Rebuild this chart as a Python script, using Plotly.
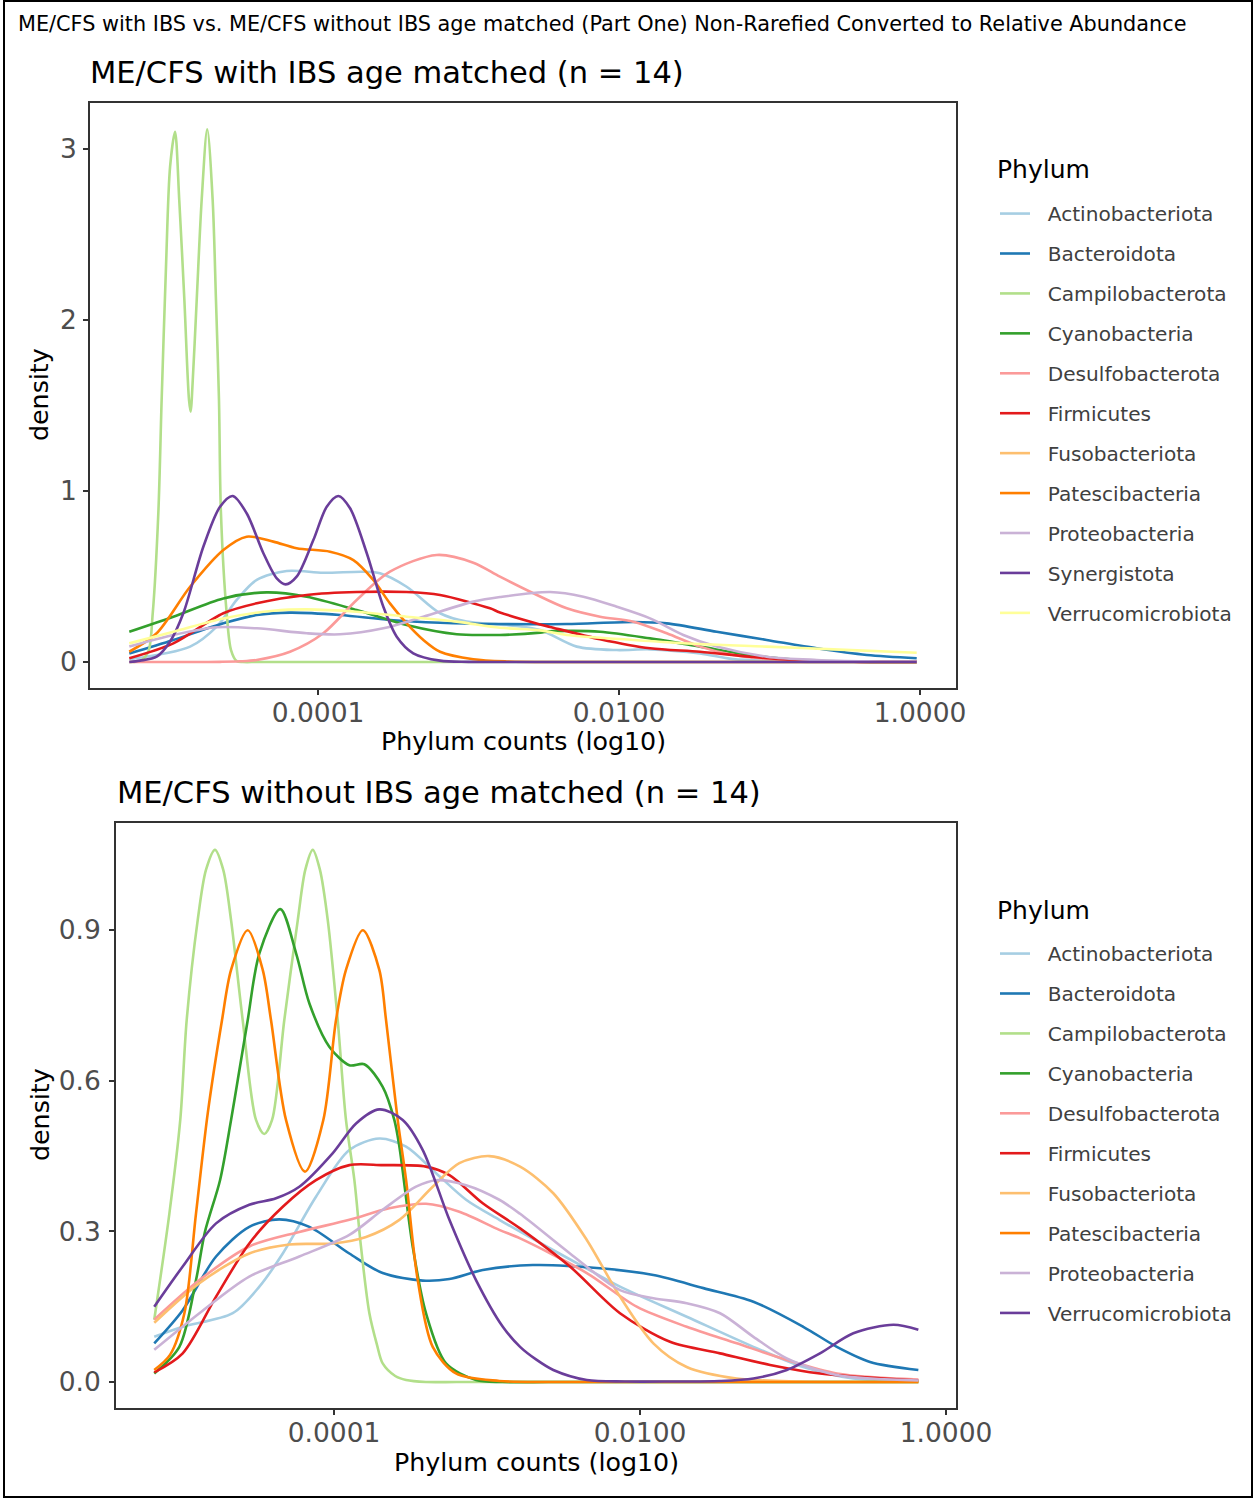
import plotly.graph_objects as go

# ---------------------------------------------------------------------------
# Phyla and colours (ColorBrewer "Paired")
# ---------------------------------------------------------------------------
phyla_ibs = ["Actinobacteriota", "Bacteroidota", "Campilobacterota", "Cyanobacteria",
             "Desulfobacterota", "Firmicutes", "Fusobacteriota", "Patescibacteria",
             "Proteobacteria", "Synergistota", "Verrucomicrobiota"]
colors_ibs = ["#A6CEE3", "#1F78B4", "#B2DF8A", "#33A02C", "#FB9A99", "#E31A1C",
              "#FDBF6F", "#FF7F00", "#CAB2D6", "#6A3D9A", "#FFFF99"]

phyla_no_ibs = ["Actinobacteriota", "Bacteroidota", "Campilobacterota", "Cyanobacteria",
                "Desulfobacterota", "Firmicutes", "Fusobacteriota", "Patescibacteria",
                "Proteobacteria", "Verrucomicrobiota"]
colors_no_ibs = ["#A6CEE3", "#1F78B4", "#B2DF8A", "#33A02C", "#FB9A99", "#E31A1C",
                 "#FDBF6F", "#FF7F00", "#CAB2D6", "#6A3D9A"]

# ---------------------------------------------------------------------------
# Density curves, ME/CFS with IBS: x = log10(relative abundance), y = density
# ---------------------------------------------------------------------------
ibs_actinobacteriota_x = [-5.254, -4.850, -4.673, -4.540, -4.407, -4.208, -3.965, -3.699, -3.588,
                          -3.411, -3.189, -3.012, -2.746, -2.525, -2.281, -2.015, -1.794, -1.462,
                          -1.243, -0.797, -0.400, -0.022]
ibs_actinobacteriota_y = [0.016, 0.090, 0.207, 0.363, 0.480, 0.532, 0.522, 0.528, 0.519,
                          0.440, 0.285, 0.236, 0.216, 0.187, 0.090, 0.070, 0.074, 0.050,
                          0.017, 0.002, 0.000, 0.000]

ibs_bacteroidota_x = [-5.254, -4.961, -4.629, -4.407, -4.186, -3.854, -3.522, -3.189, -2.791,
                      -2.347, -1.905, -1.683, -1.351, -1.019, -0.686, -0.354, -0.022]
ibs_bacteroidota_y = [0.050, 0.129, 0.226, 0.275, 0.289, 0.275, 0.246, 0.230, 0.222,
                      0.222, 0.234, 0.226, 0.177, 0.129, 0.080, 0.041, 0.022]

ibs_campilobacterota_x = [-5.254, -5.220, -5.183, -5.128, -5.098, -5.061, -5.039, -5.010, -4.983,
                          -4.950, -4.922, -4.888, -4.857, -4.846, -4.839, -4.806, -4.773, -4.736,
                          -4.700, -4.678, -4.658, -4.645, -4.607, -4.578, -4.540, -4.500, -4.400,
                          -4.000, -3.500, -3.000, -2.500, -2.000, -1.500, -1.000, -0.500, -0.022]
ibs_campilobacterota_y = [0.000, 0.001, 0.005, 0.060, 0.287, 0.871, 1.532, 2.312, 2.896,
                          3.101, 2.702, 2.117, 1.532, 1.464, 1.532, 2.117, 2.702, 3.115,
                          2.702, 2.117, 1.532, 0.871, 0.287, 0.070, 0.005, 0.000, 0.000,
                          0.000, 0.000, 0.000, 0.000, 0.000, 0.000, 0.000, 0.000, 0.000]

ibs_cyanobacteria_x = [-5.254, -4.961, -4.629, -4.341, -4.075, -3.743, -3.411, -3.078, -2.857,
                       -2.791, -2.525, -2.458, -2.126, -1.794, -1.462, -1.130, -0.797, -0.400,
                       -0.022]
ibs_cyanobacteria_y = [0.177, 0.265, 0.372, 0.407, 0.382, 0.304, 0.216, 0.162, 0.158,
                       0.158, 0.172, 0.180, 0.177, 0.138, 0.090, 0.041, 0.012, 0.002,
                       0.000]

ibs_desulfobacterota_x = [-5.254, -5.000, -4.784, -4.650, -4.518, -4.407, -4.186, -3.965, -3.743,
                          -3.522, -3.211, -2.968, -2.791, -2.569, -2.347, -2.126, -1.905, -1.683,
                          -1.462, -1.240, -0.908, -0.450, -0.022]
ibs_desulfobacterota_y = [0.000, 0.000, 0.000, 0.001, 0.004, 0.012, 0.060, 0.168, 0.363,
                          0.528, 0.626, 0.581, 0.499, 0.402, 0.314, 0.265, 0.236, 0.168,
                          0.090, 0.041, 0.012, 0.003, 0.002]

ibs_firmicutes_x = [-5.254, -4.961, -4.629, -4.407, -4.075, -3.743, -3.411, -3.189, -2.857,
                    -2.791, -2.525, -2.458, -2.126, -1.794, -1.462, -1.130, -0.797, -0.400,
                    -0.022]
ibs_firmicutes_y = [0.022, 0.109, 0.285, 0.343, 0.392, 0.409, 0.409, 0.392, 0.314,
                    0.290, 0.220, 0.205, 0.133, 0.080, 0.060, 0.031, 0.008, 0.001,
                    0.000]

ibs_fusobacteriota_x = []
ibs_fusobacteriota_y = []

ibs_patescibacteria_x = [-5.254, -5.072, -4.850, -4.629, -4.474, -4.297, -4.142, -3.920, -3.765,
                         -3.633, -3.522, -3.411, -3.300, -3.189, -2.968, -2.746, -2.400, -2.000,
                         -1.500, -1.000, -0.500, -0.022]
ibs_patescibacteria_y = [0.060, 0.168, 0.440, 0.655, 0.733, 0.704, 0.665, 0.645, 0.596,
                         0.480, 0.343, 0.226, 0.129, 0.060, 0.016, 0.003, 0.000, 0.000,
                         0.000, 0.000, 0.000, 0.000]

ibs_proteobacteria_x = [-5.254, -4.961, -4.673, -4.407, -4.075, -3.854, -3.566, -3.300, -2.968,
                        -2.791, -2.458, -2.237, -2.015, -1.794, -1.573, -1.351, -1.019, -0.686,
                        -0.350, -0.022]
ibs_proteobacteria_y = [0.090, 0.158, 0.203, 0.197, 0.168, 0.162, 0.197, 0.265, 0.353,
                        0.380, 0.409, 0.382, 0.323, 0.255, 0.158, 0.090, 0.031, 0.012,
                        0.004, 0.002]

ibs_synergistota_x = [-5.254, -5.183, -5.072, -4.983, -4.895, -4.762, -4.651, -4.567, -4.474,
                      -4.363, -4.274, -4.215, -4.142, -4.031, -3.942, -3.865, -3.787, -3.676,
                      -3.566, -3.477, -3.367, -3.189, -3.000, -2.600, -2.000, -1.500, -1.000,
                      -0.500, -0.022]
ibs_synergistota_y = [0.000, 0.008, 0.031, 0.120, 0.285, 0.674, 0.908, 0.971, 0.870,
                      0.636, 0.489, 0.454, 0.499, 0.713, 0.908, 0.971, 0.899, 0.636,
                      0.323, 0.148, 0.051, 0.008, 0.001, 0.000, 0.000, 0.000, 0.000,
                      0.000, 0.000]

ibs_verrucomicrobiota_x = [-5.254, -4.961, -4.629, -4.297, -4.075, -3.743, -3.411, -3.078, -2.791,
                           -2.525, -2.347, -1.905, -1.462, -1.019, -0.576, -0.022]
ibs_verrucomicrobiota_y = [0.109, 0.177, 0.255, 0.300, 0.308, 0.294, 0.265, 0.236, 0.200,
                           0.185, 0.158, 0.129, 0.105, 0.090, 0.074, 0.054]

# ---------------------------------------------------------------------------
# Density curves, ME/CFS without IBS
# ---------------------------------------------------------------------------
noibs_actinobacteriota_x = [-5.175, -4.989, -4.662, -4.488, -4.335, -4.118, -3.900, -3.704, -3.529,
                            -3.333, -3.137, -2.920, -2.700, -2.348, -2.131, -1.695, -1.259, -0.933,
                            -0.606, -0.181]
noibs_actinobacteriota_y = [0.090, 0.110, 0.137, 0.190, 0.256, 0.369, 0.462, 0.485, 0.469,
                            0.416, 0.363, 0.323, 0.285, 0.226, 0.190, 0.130, 0.070, 0.030,
                            0.007, 0.002]

noibs_bacteroidota_x = [-5.175, -4.989, -4.771, -4.554, -4.358, -4.161, -3.900, -3.682, -3.420,
                        -3.246, -3.028, -2.701, -2.240, -1.913, -1.586, -1.259, -0.933, -0.714,
                        -0.497, -0.181]
noibs_bacteroidota_y = [0.077, 0.143, 0.250, 0.309, 0.324, 0.309, 0.256, 0.217, 0.202,
                        0.205, 0.223, 0.233, 0.226, 0.213, 0.187, 0.160, 0.110, 0.070,
                        0.040, 0.024]

noibs_campilobacterota_x = [-5.175, -5.076, -5.005, -4.963, -4.891, -4.837, -4.778, -4.724, -4.673,
                            -4.597, -4.510, -4.456, -4.405, -4.325, -4.237, -4.188, -4.139, -4.092,
                            -4.041, -3.976, -3.922, -3.867, -3.824, -3.769, -3.720, -3.682, -3.600,
                            -3.529, -3.400, -3.200, -2.800, -2.400, -2.000, -1.500, -1.000, -0.500,
                            -0.181]
noibs_campilobacterota_y = [0.124, 0.336, 0.522, 0.721, 0.920, 1.020, 1.060, 1.020, 0.920,
                            0.721, 0.522, 0.494, 0.522, 0.721, 0.920, 1.020, 1.060, 1.020,
                            0.920, 0.721, 0.522, 0.402, 0.270, 0.137, 0.075, 0.037, 0.012,
                            0.004, 0.000, 0.000, 0.000, 0.000, 0.000, 0.000, 0.000, 0.000,
                            0.000]

noibs_cyanobacteria_x = [-5.175, -5.011, -4.902, -4.843, -4.745, -4.673, -4.629, -4.564, -4.488,
                         -4.351, -4.248, -4.161, -4.031, -3.900, -3.802, -3.682, -3.606, -3.573,
                         -3.486, -3.399, -3.268, -3.072, -2.900, -2.600, -2.200, -1.800, -1.400,
                         -1.000, -0.600, -0.181]
noibs_cyanobacteria_y = [0.017, 0.070, 0.203, 0.300, 0.402, 0.522, 0.602, 0.721, 0.854,
                         0.942, 0.854, 0.754, 0.668, 0.631, 0.633, 0.588, 0.522, 0.469,
                         0.270, 0.137, 0.037, 0.004, 0.000, 0.000, 0.000, 0.000, 0.000,
                         0.000, 0.000, 0.000]

noibs_desulfobacterota_x = [-5.175, -4.880, -4.554, -4.227, -3.900, -3.639, -3.399, -3.181, -2.920,
                            -2.784, -2.348, -2.022, -1.695, -1.368, -1.041, -0.714, -0.181]
noibs_desulfobacterota_y = [0.124, 0.203, 0.270, 0.299, 0.323, 0.346, 0.355, 0.339, 0.303,
                            0.286, 0.217, 0.150, 0.110, 0.077, 0.044, 0.017, 0.005]

noibs_firmicutes_x = [-5.175, -4.989, -4.771, -4.554, -4.335, -4.118, -3.900, -3.682, -3.399,
                      -3.246, -3.028, -2.784, -2.458, -2.131, -1.804, -1.477, -1.150, -0.824,
                      -0.181]
noibs_firmicutes_y = [0.019, 0.057, 0.170, 0.276, 0.349, 0.402, 0.432, 0.432, 0.429,
                      0.412, 0.356, 0.306, 0.230, 0.137, 0.080, 0.057, 0.034, 0.017,
                      0.003]

noibs_fusobacteriota_x = [-5.175, -4.880, -4.554, -4.292, -4.008, -3.791, -3.573, -3.355, -3.181,
                          -2.985, -2.784, -2.567, -2.348, -2.131, -1.913, -1.695, -1.368, -0.954,
                          -0.600, -0.181]
noibs_fusobacteriota_y = [0.118, 0.197, 0.256, 0.274, 0.276, 0.289, 0.323, 0.389, 0.436,
                          0.450, 0.429, 0.376, 0.283, 0.170, 0.077, 0.030, 0.007, 0.001,
                          0.000, 0.000]

noibs_patescibacteria_x = [-5.175, -5.072, -4.978, -4.902, -4.825, -4.732, -4.673, -4.564, -4.466,
                           -4.412, -4.314, -4.190, -4.070, -3.987, -3.922, -3.812, -3.704, -3.660,
                           -3.584, -3.529, -3.453, -3.355, -3.203, -2.920, -2.600, -2.200, -1.800,
                           -1.400, -1.000, -0.600, -0.181]
noibs_patescibacteria_y = [0.024, 0.054, 0.137, 0.336, 0.536, 0.721, 0.821, 0.900, 0.821,
                           0.721, 0.522, 0.419, 0.522, 0.721, 0.821, 0.900, 0.821, 0.721,
                           0.522, 0.402, 0.203, 0.070, 0.017, 0.002, 0.000, 0.000, 0.000,
                           0.000, 0.000, 0.000, 0.000]

noibs_proteobacteria_x = [-5.175, -4.880, -4.554, -4.227, -3.900, -3.682, -3.464, -3.333, -3.137,
                          -2.920, -2.784, -2.458, -2.131, -1.913, -1.695, -1.477, -1.259, -1.041,
                          -0.714, -0.181]
noibs_proteobacteria_y = [0.064, 0.137, 0.210, 0.250, 0.293, 0.343, 0.389, 0.402, 0.392,
                          0.363, 0.335, 0.256, 0.183, 0.167, 0.157, 0.137, 0.090, 0.047,
                          0.014, 0.003]

noibs_verrucomicrobiota_x = [-5.175, -4.989, -4.771, -4.554, -4.379, -4.227, -4.008, -3.856, -3.704,
                             -3.551, -3.420, -3.246, -3.072, -2.897, -2.784, -2.680, -2.567, -2.348,
                             -2.100, -1.800, -1.477, -1.259, -1.041, -0.824, -0.606, -0.344, -0.181]
noibs_verrucomicrobiota_y = [0.150, 0.230, 0.316, 0.353, 0.366, 0.389, 0.456, 0.515, 0.543,
                             0.522, 0.462, 0.323, 0.203, 0.110, 0.070, 0.045, 0.024, 0.004,
                             0.001, 0.001, 0.002, 0.007, 0.024, 0.057, 0.097, 0.114, 0.104]

# Curves in drawing order for each panel
curves_ibs = [
    (ibs_actinobacteriota_x, ibs_actinobacteriota_y),
    (ibs_bacteroidota_x, ibs_bacteroidota_y),
    (ibs_campilobacterota_x, ibs_campilobacterota_y),
    (ibs_cyanobacteria_x, ibs_cyanobacteria_y),
    (ibs_desulfobacterota_x, ibs_desulfobacterota_y),
    (ibs_firmicutes_x, ibs_firmicutes_y),
    (ibs_fusobacteriota_x, ibs_fusobacteriota_y),
    (ibs_patescibacteria_x, ibs_patescibacteria_y),
    (ibs_proteobacteria_x, ibs_proteobacteria_y),
    (ibs_synergistota_x, ibs_synergistota_y),
    (ibs_verrucomicrobiota_x, ibs_verrucomicrobiota_y),
]
curves_no_ibs = [
    (noibs_actinobacteriota_x, noibs_actinobacteriota_y),
    (noibs_bacteroidota_x, noibs_bacteroidota_y),
    (noibs_campilobacterota_x, noibs_campilobacterota_y),
    (noibs_cyanobacteria_x, noibs_cyanobacteria_y),
    (noibs_desulfobacterota_x, noibs_desulfobacterota_y),
    (noibs_firmicutes_x, noibs_firmicutes_y),
    (noibs_fusobacteriota_x, noibs_fusobacteriota_y),
    (noibs_patescibacteria_x, noibs_patescibacteria_y),
    (noibs_proteobacteria_x, noibs_proteobacteria_y),
    (noibs_verrucomicrobiota_x, noibs_verrucomicrobiota_y),
]

x_tick_values = [1e-4, 1e-2, 1.0]
x_tick_labels = ["0.0001", "0.0100", "1.0000"]
y_ticks_ibs = [0, 1, 2, 3]
y_ticks_no_ibs = [0.0, 0.3, 0.6, 0.9]

# ---------------------------------------------------------------------------
# Figure
# ---------------------------------------------------------------------------
W, H = 1254, 1500
FONT = "DejaVu Sans"
NBSP = "\u00a0"


def fx(px):
    return px / W


def fy(py):
    return 1 - py / H


fig = go.Figure()


def add_panel(phyla, colors, curves, xref, yref, legend):
    for i, (name, color, (lx, dens)) in enumerate(zip(phyla, colors, curves)):
        xs = [10 ** v for v in lx] if lx else [None]
        ys = list(dens) if dens else [None]
        fig.add_trace(go.Scatter(
            x=xs, y=ys, mode="lines",
            # two non-breaking spaces widen the gap between key and label
            name=NBSP * 2 + name,
            line=dict(color=color, width=2.6, shape="spline", smoothing=0.85),
            xaxis=xref, yaxis=yref, legend=legend,
            legendgroup=f"{legend}-{i}", showlegend=True,
            hoverinfo="skip",
        ))


add_panel(phyla_ibs, colors_ibs, curves_ibs, "x", "y", "legend")
add_panel(phyla_no_ibs, colors_no_ibs, curves_no_ibs, "x2", "y2", "legend2")

axis_style = dict(
    showline=True, linecolor="#333333", linewidth=1.6, mirror=True,
    ticks="outside", ticklen=5, tickwidth=1.6, tickcolor="#333333",
    showgrid=False, zeroline=False, automargin=False,
    tickfont=dict(family=FONT, size=26.5, color="#4D4D4D"),
)

legend_style = dict(
    xanchor="left", yanchor="top",
    bgcolor="rgba(0,0,0,0)",
    font=dict(family=FONT, size=20.1, color="#404040"),
    tracegroupgap=10.8, itemwidth=30,
)

fig.update_layout(
    template="none",
    width=W, height=H, autosize=False,
    margin=dict(l=0, r=0, t=0, b=0, pad=0, autoexpand=False),
    paper_bgcolor="white", plot_bgcolor="white",
    font=dict(family=FONT, color="#000000"),
    showlegend=True,
    xaxis=dict(axis_style, type="log", domain=[fx(90), fx(956)], range=[-5.515, 0.239],
               tickvals=x_tick_values, ticktext=x_tick_labels, anchor="y",
               ticklabelstandoff=-5),
    yaxis=dict(axis_style, domain=[fy(688), fy(103)], range=[-0.152, 3.269],
               tickvals=y_ticks_ibs, ticktext=[f"{v:d}" for v in y_ticks_ibs], anchor="x",
               ticklabelstandoff=1),
    xaxis2=dict(axis_style, type="log", domain=[fx(116), fx(956)], range=[-5.425, 0.065],
                tickvals=x_tick_values, ticktext=x_tick_labels, anchor="y2",
                ticklabelstandoff=-5),
    yaxis2=dict(axis_style, domain=[fy(1408), fy(823)], range=[-0.0518, 1.1135],
                tickvals=y_ticks_no_ibs, ticktext=[f"{v:.1f}" for v in y_ticks_no_ibs], anchor="x2",
                ticklabelstandoff=3),
    legend=dict(legend_style, x=fx(995), y=fy(194)),
    legend2=dict(legend_style, x=fx(995), y=fy(934)),
)

annotations = [
    dict(text="ME/CFS with IBS vs. ME/CFS without IBS age matched (Part One) Non-Rarefied Converted to Relative Abundance",
         x=fx(16), y=fy(24), xanchor="left", yanchor="middle",
         font=dict(family=FONT, size=20.8, color="#000000")),
    dict(text="ME/CFS with IBS age matched (n = 14)",
         x=fx(88), y=fy(73), xanchor="left", yanchor="middle",
         font=dict(family=FONT, size=30.5, color="#000000")),
    dict(text="ME/CFS without IBS age matched (n = 14)",
         x=fx(115), y=fy(793), xanchor="left", yanchor="middle",
         font=dict(family=FONT, size=30.5, color="#000000")),
    dict(text="Phylum counts (log10)", x=fx(523), y=fy(742), xanchor="center", yanchor="middle",
         font=dict(family=FONT, size=25.3, color="#000000")),
    dict(text="Phylum counts (log10)", x=fx(536), y=fy(1462), xanchor="center", yanchor="middle",
         font=dict(family=FONT, size=25.3, color="#000000")),
    dict(text="density", x=fx(40), y=fy(395), xanchor="center", yanchor="middle", textangle=-90,
         font=dict(family=FONT, size=25.3, color="#000000")),
    dict(text="density", x=fx(40), y=fy(1115), xanchor="center", yanchor="middle", textangle=-90,
         font=dict(family=FONT, size=25.3, color="#000000")),
    # legend headings
    dict(text="Phylum", x=fx(995), y=fy(170), xanchor="left", yanchor="middle",
         font=dict(family=FONT, size=25, color="#000000")),
    dict(text="Phylum", x=fx(995), y=fy(910), xanchor="left", yanchor="middle",
         font=dict(family=FONT, size=25, color="#000000")),
]
for a in annotations:
    a.update(xref="paper", yref="paper", showarrow=False)
fig.update_layout(annotations=annotations)

# Outer frame around the whole figure
fig.add_shape(type="rect", xref="paper", yref="paper",
              x0=fx(4), x1=fx(1252), y0=fy(1497), y1=fy(1),
              line=dict(color="#000000", width=2), fillcolor="rgba(0,0,0,0)")

fig.write_html("out.html")
